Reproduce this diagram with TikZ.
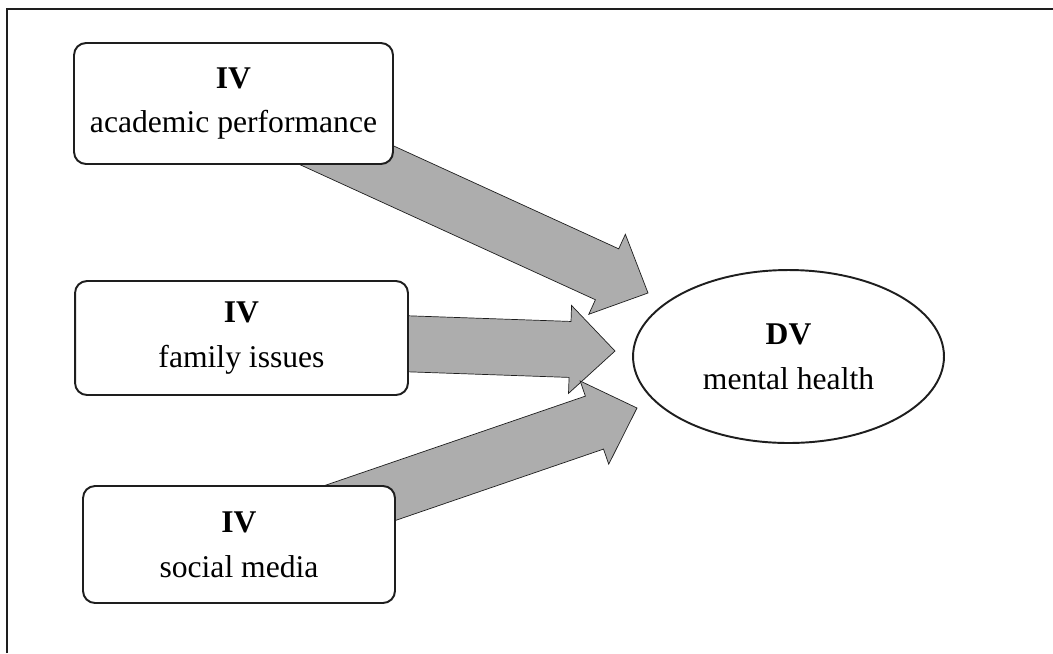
\documentclass[tikz,border=0pt]{standalone}
\usepackage{fontspec}
\setmainfont{Liberation Serif}
\usetikzlibrary{calc, backgrounds, shapes.geometric}
\definecolor{cgrey}{HTML}{ADADAD}
\definecolor{cline}{HTML}{1E1E1E}
\tikzset{
  every picture/.style={line width=1.1pt},
  ivbox/.style={draw=cline, fill=white, rounded corners=0.24cm, align=center, inner sep=0pt, font=\fontsize{18}{25.6}\selectfont},
  dvnode/.style={ellipse, draw=cline, fill=white, align=center, inner sep=0pt, font=\fontsize{18}{25.6}\selectfont},
  fat/.style={draw=cline, fill=cgrey, line join=miter},
}
% block arrow sizes
\newcommand{\bodyw}{0.56cm}
\newcommand{\headw}{0.88cm}
\newcommand{\headl}{0.9cm}
\newcommand{\fatarrow}[2]{%
  \filldraw[fat] let \p1=(#1), \p2=(#2),
      \n1={atan2(\y2-\y1,\x2-\x1)}, \n2={veclen(\x2-\x1,\y2-\y1)} in
    ($(\p1)+(\n1+90:\bodyw)$)
    -- ($(\p1)+(\n1:\n2-\headl)+(\n1+90:\bodyw)$)
    -- ($(\p1)+(\n1:\n2-\headl)+(\n1+90:\headw)$)
    -- (\p2)
    -- ($(\p1)+(\n1:\n2-\headl)+(\n1-90:\headw)$)
    -- ($(\p1)+(\n1:\n2-\headl)+(\n1-90:\bodyw)$)
    -- ($(\p1)+(\n1-90:\bodyw)$) -- cycle;
}
\begin{document}
\begin{tikzpicture}[x=0.02cm, y=-0.02cm]
  \useasboundingbox (0,0) rectangle (1053,653);
  \draw[cline, line width=1.2pt] (7,653) -- (7,9) -- (1053,9);

  % variables
  \node[ivbox, minimum width=6.38cm, minimum height=2.42cm] (iv1) at (233.5,103.5) {\textbf{IV}\\academic performance};
  \node[ivbox, minimum width=6.66cm, minimum height=2.28cm] (iv2) at (241.5,338) {\textbf{IV}\\family issues};
  \node[ivbox, minimum width=6.24cm, minimum height=2.34cm] (iv3) at (239,544.5) {\textbf{IV}\\social media};
  \node[dvnode, minimum width=6.22cm, minimum height=3.46cm] (dv) at (788.5,356.5) {\textbf{DV}\\mental health};

  % arrow tips in front of the ellipse
  \coordinate (t1) at (648,293);
  \coordinate (t2) at (615,351);
  \coordinate (t3) at (637,408);

  \begin{scope}[on background layer]
    \fatarrow{iv1}{t1}
    \fatarrow{iv2}{t2}
    \fatarrow{iv3}{t3}
  \end{scope}
\end{tikzpicture}
\end{document}
